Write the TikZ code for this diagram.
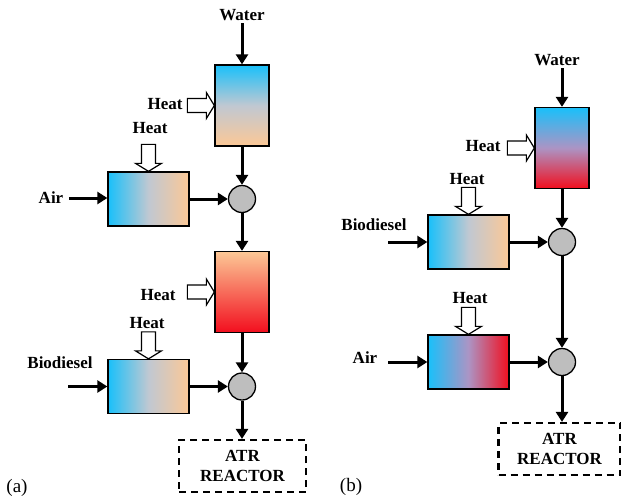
\documentclass[tikz,border=0pt]{standalone}
\usepackage{fontspec}
\setmainfont{Liberation Serif}
\usetikzlibrary{arrows.meta}

\definecolor{coldcyan}{RGB}{25,192,250}
\definecolor{warmpeach}{RGB}{252,200,150}
\definecolor{hotred}{RGB}{242,14,30}
\definecolor{mixgray}{RGB}{190,190,190}
\definecolor{palemid}{RGB}{192,200,210}
\definecolor{lilacmid}{RGB}{172,148,196}

\tikzset{
  flow/.style={line width=3pt, -{Triangle[length=10pt,width=12pt]}},
  unit/.style={draw, line width=1.3pt, inner sep=0pt},
  tall/.style={unit, minimum width=54pt, minimum height=81pt},
  wide/.style={unit, minimum width=81pt, minimum height=54pt},
  mixer/.style={circle, draw, line width=1.3pt, fill=mixgray, minimum size=27pt, inner sep=0pt},
  reactor/.style={draw, line width=2.2pt, dash pattern=on 7pt off 5pt, align=center,
    font=\fontsize{17}{20}\selectfont\bfseries, inner sep=0pt},
  lbl/.style={font=\fontsize{17}{19}\selectfont\bfseries, inner sep=2.5pt},
  tag/.style={font=\fontsize{19}{21}\selectfont, inner sep=0pt},
  heatarrow/.pic={
    \draw[line width=1.2pt, fill=white] (-27,-7) -- (-8,-7) -- (-8,-13) -- (0,0)
      -- (-8,13) -- (-8,7) -- (-27,7) -- cycle;
  }
}

\begin{document}
\begin{tikzpicture}[x=1pt, y=-1pt]
\useasboundingbox (0,0) rectangle (621,498);

% (a)
\node[tall, top color=coldcyan, bottom color=warmpeach, middle color=palemid] (a1) at (242,105.5) {};
\node[wide, left color=coldcyan, right color=warmpeach, middle color=palemid] (a2) at (148.5,199) {};
\node[mixer] (am1) at (242,199) {};
\node[tall, top color=warmpeach, bottom color=hotred] (a3) at (242,292) {};
\node[wide, left color=coldcyan, right color=warmpeach, middle color=palemid] (a4) at (148.5,386.5) {};
\node[mixer] (am2) at (242,386.5) {};
\node[reactor, minimum width=127pt, minimum height=52pt] (aR) at (242.5,466) {ATR\\REACTOR};

\node[lbl] (awater) at (242,15) {Water};
\node[lbl] (aheat1) at (165,104) {Heat};
\node[lbl] (aheat2) at (150,128) {Heat};
\node[lbl] (aair) at (51,198) {Air};
\node[lbl] (aheat3) at (158,295) {Heat};
\node[lbl] (aheat4) at (147,323) {Heat};
\node[lbl] (abio) at (60,363) {Biodiesel};
\node[tag] (atag) at (17,488) {(a)};
\coordinate (abioin) at (68,386.5);

\path (a1.west) pic {heatarrow};
\path (a2.north) pic[rotate=-90] {heatarrow};
\path (a3.west) pic {heatarrow};
\path (a4.north) pic[rotate=-90] {heatarrow};

\draw[flow] (awater) -- (a1);
\draw[flow, shorten <=3pt] (aair) -- (aair -| a2.west);
\draw[flow] (a1) -- (am1);
\draw[flow] (a2) -- (am1);
\draw[flow] (am1) -- (a3);
\draw[flow] (a3) -- (am2);
\draw[flow] (abioin) -- (a4);
\draw[flow] (a4) -- (am2);
\draw[flow] (am2) -- (am2 |- aR.north);

% (b)
\node[tall, top color=coldcyan, bottom color=hotred, middle color=lilacmid] (b1) at (562,148) {};
\node[wide, left color=coldcyan, right color=warmpeach, middle color=palemid] (b2) at (468.5,242) {};
\node[mixer] (bm1) at (562,242) {};
\node[wide, left color=coldcyan, right color=hotred, middle color=lilacmid] (b3) at (468.5,362) {};
\node[mixer] (bm2) at (562,362) {};
\node[reactor, minimum width=122pt, minimum height=52pt] (bR) at (559.5,449) {ATR\\REACTOR};

\node[lbl] (bwater) at (557,60) {Water};
\node[lbl] (bheat1) at (483,146) {Heat};
\node[lbl] (bheat2) at (467,179) {Heat};
\node[lbl] (bbio) at (374,225) {Biodiesel};
\node[lbl] (bheat3) at (470,298) {Heat};
\node[lbl] (bair) at (365,358) {Air};
\node[tag] (btag) at (351,487) {(b)};
\coordinate (bbioin) at (388,242);
\coordinate (bairin) at (388,362);

\path (b1.west) pic {heatarrow};
\path (b2.north) pic[rotate=-90] {heatarrow};
\path (b3.north) pic[rotate=-90] {heatarrow};

\draw[flow] (b1.north |- bwater.south) -- (b1);
\draw[flow] (bbioin) -- (b2);
\draw[flow] (b1) -- (bm1);
\draw[flow] (b2) -- (bm1);
\draw[flow] (bm1) -- (bm2);
\draw[flow] (bairin) -- (b3);
\draw[flow] (b3) -- (bm2);
\draw[flow] (bm2) -- (bm2 |- bR.north);
\end{tikzpicture}
\end{document}
